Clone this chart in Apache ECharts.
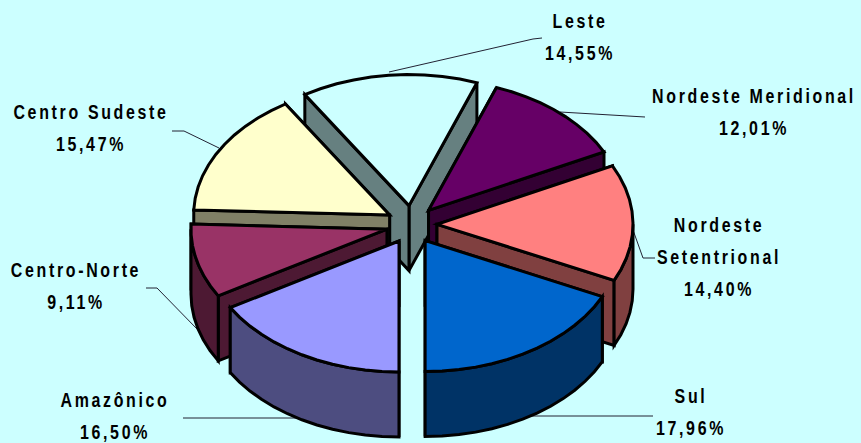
<!DOCTYPE html>
<html><head><meta charset="utf-8">
<style>html,body{margin:0;padding:0;background:#CCFFFF}#c{width:861px;height:443px}text{letter-spacing:3.5px}</style>
<script src="https://cdn.jsdelivr.net/npm/echarts@6/dist/echarts.min.js"></script></head>
<body><div id="c"></div>
<script>
// clockwise from Leste
const categories = ['Leste','Nordeste Meridional','Nordeste\nSetentrional','Sul','Amazônico','Centro-Norte','Centro Sudeste'];
const shares = [14.55,12.01,14.40,17.96,16.50,9.11,15.47];
const topColors = ['#CCFFFF','#660066','#FF8080','#0066CC','#9999FF','#993366','#FFFFCC'];
const wallColors = ['#668080','#330033','#804040','#003366','#4D4D80','#4D1933','#808066'];
const drawOrder = [0,6,1,2,5,3,4];
const labelCentres = [[580,5],[754,80],[719,209],[691,380],[115,384],[76,254],[91,96]];
const leaders = [
  [[389,72],[533,39],[542,38]],
  [[560,112],[645,117]],
  [[633,230],[643,258],[655,258]],
  [[530,416],[653,416]],
  [[183,418],[305,418]],
  [[146,288],[157,288],[198,330]],
  [[172,131],[184,131],[219,148]]
];
const START=-32.1, CX=411.6, CY=224.5, RX=196, RY=131, DEPTH=65, EX=25.4, EY=19, STEP=5;
const rad=d=>d*Math.PI/180;
const spans=[]; let acc=START;
shares.forEach(v=>{const s=acc; acc+=v*3.6; spans.push([s,acc]);});
function arc(ax,ay,a0,a1){
  const pts=[]; const n=Math.max(2,Math.round((a1-a0)/STEP));
  for(let k=0;k<=n;k++){const t=rad(a0+(a1-a0)*k/n); pts.push([ax+RX*Math.sin(t),ay-RY*Math.cos(t)]);}
  return pts;
}
function sliceShapes(i){
  const [a0,a1]=spans[i], mid=rad((a0+a1)/2);
  const ax=CX+EX*Math.sin(mid), ay=CY-EY*Math.cos(mid);
  const rim=arc(ax,ay,a0,a1);
  const down=p=>[p[0],p[1]+DEPTH];
  const st={stroke:'#000',lineWidth:3,lineJoin:'miter'};
  const poly=(pts,fill)=>({type:'polygon',shape:{points:pts},style:Object.assign({fill},st)});
  const apex=[ax,ay];
  // radial walls: the one reaching further down the picture is nearer the viewer, so it goes on last
  const ends=[rim[0],rim[rim.length-1]].sort((p,q)=>p[1]-q[1]);
  const out=ends.map(e=>poly([e,apex,down(apex),down(e)],wallColors[i]));
  // the outer wall only shows on the front half of the ellipse
  const parts=[[Math.max(a0,90),Math.min(a1,270)],[Math.max(a0,-270),Math.min(a1,-90)]];
  parts.forEach(([b0,b1])=>{
    if(b1>b0){const f=arc(ax,ay,b0,b1); out.push(poly(f.concat(f.map(down).reverse()),wallColors[i]));}
  });
  out.push(poly([apex].concat(rim),topColors[i]));
  return out;
}
const chart=echarts.init(document.getElementById('c'),null,{renderer:'svg'});
chart.setOption({
  backgroundColor:'#CCFFFF',
  animation:false,
  series:[
    {type:'custom',coordinateSystem:'none',silent:true,z:1,
     data:categories.map((n,i)=>({name:n,value:i})),
     renderItem:(p,api)=>{const i=api.value(0);
       return {type:'polyline',shape:{points:leaders[i]},style:{fill:null,stroke:'#223',lineWidth:1}};}},
    {type:'custom',coordinateSystem:'none',silent:true,z:2,
     data:drawOrder.map(i=>({name:categories[i],value:i})),
     renderItem:(p,api)=>({type:'group',children:sliceShapes(api.value(0))})},
    {type:'custom',coordinateSystem:'none',silent:true,z:3,
     data:categories.map((n,i)=>({name:n,value:i})),
     renderItem:(p,api)=>{const i=api.value(0);
       return {type:'text',x:labelCentres[i][0],y:labelCentres[i][1],scaleX:0.76,
         style:{text:categories[i]+'\n'+shares[i].toFixed(2).replace('.',',')+'%',
           font:'bold 21px "Liberation Sans",sans-serif',
           lineHeight:32,align:'center',verticalAlign:'top',fill:'#000'}};}}
  ]
});
</script></body></html>
